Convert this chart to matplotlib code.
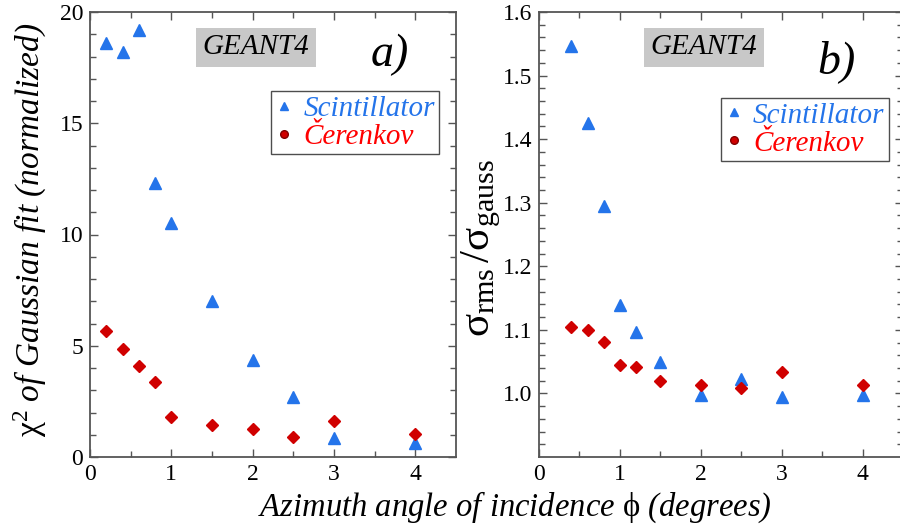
import numpy as np
import matplotlib.pyplot as plt
from matplotlib.lines import Line2D

plt.rcParams['font.family'] = 'serif'
plt.rcParams['font.serif'] = ['Liberation Serif', 'DejaVu Serif']
plt.rcParams['mathtext.fontset'] = 'custom'
plt.rcParams['mathtext.rm'] = 'Liberation Serif'
plt.rcParams['mathtext.it'] = 'Liberation Serif:italic'

# panel a) chi^2 of gaussian fit
x_scint_a = [0.2, 0.4, 0.6, 0.8, 1.0, 1.5, 2.0, 2.5, 3.0, 4.0]
chi2_scint = [18.6, 18.2, 19.2, 12.3, 10.5, 7.0, 4.35, 2.7, 0.85, 0.63]
x_cer_a = [0.2, 0.4, 0.6, 0.8, 1.0, 1.5, 2.0, 2.5, 3.0, 4.0]
chi2_cer = [5.66, 4.85, 4.09, 3.37, 1.8, 1.44, 1.26, 0.9, 1.6, 1.03]

# panel b) sigma_rms / sigma_gauss
x_scint_b = [0.4, 0.6, 0.8, 1.0, 1.2, 1.5, 2.0, 2.5, 3.0, 4.0]
ratio_scint = [1.547, 1.425, 1.295, 1.139, 1.097, 1.05, 0.998, 1.023, 0.995, 0.998]
x_cer_b = [0.4, 0.6, 0.8, 1.0, 1.2, 1.5, 2.0, 2.5, 3.0, 4.0]
ratio_cer = [1.105, 1.099, 1.081, 1.044, 1.041, 1.019, 1.013, 1.008, 1.033, 1.013]

blue = '#2474ea'
red = '#d00000'
spine_col = '#555555'

fig = plt.figure(figsize=(9, 5.27), dpi=100)
ax1 = fig.add_axes([90/900, 1-457/527, 366/900, 445/527])
ax2 = fig.add_axes([539/900, 1-457/527, 364/900, 445/527])

for ax in (ax1, ax2):
    ax.tick_params(which='both', direction='in', top=True, right=True,
                   color=spine_col, labelsize=17)
    ax.tick_params(axis='x', pad=5)
    ax.tick_params(axis='y', pad=5)
    ax.tick_params(which='major', length=6, width=1)
    ax.tick_params(which='minor', length=4, width=1)
    for s in ax.spines.values():
        s.set_color(spine_col)
        s.set_linewidth(1.3)
    ax.set_xlim(0, 4.5)
    ax.set_xticks([0, 1, 2, 3, 4])
    ax.set_xticks(np.arange(0.5, 4.5, 1.0), minor=True)

# left panel
ax1.plot(x_scint_a, chi2_scint, linestyle='none', marker='^', ms=8.5,
         color=blue, mec=blue)
ax1.plot(x_cer_a, chi2_cer, linestyle='none', marker='D', ms=6.5,
         color=red, mec=red)
ax1.set_ylim(0, 20)
ax1.set_yticks([0, 5, 10, 15, 20])
ax1.set_yticks(np.arange(0, 20, 1), minor=True)
ax1.set_ylabel(r'$\mathrm{\chi^2}$ of Gaussian fit (normalized)',
               fontsize=24, style='italic')
ax1.yaxis.set_label_coords(-0.112, 0.51)

# right panel
ax2.plot(x_scint_b, ratio_scint, linestyle='none', marker='^', ms=8.5,
         color=blue, mec=blue)
ax2.plot(x_cer_b, ratio_cer, linestyle='none', marker='D', ms=6.5,
         color=red, mec=red)
ax2.set_ylim(0.9, 1.6)
ax2.set_yticks([1.0, 1.1, 1.2, 1.3, 1.4, 1.5, 1.6])
ax2.set_yticklabels(['1.0', '1.1', '1.2', '1.3', '1.4', '1.5', '1.6'])
ax2.set_yticks(np.arange(0.92, 1.6, 0.02), minor=True)
ax2.set_ylabel(r'$\mathrm{\sigma_{rms}\,/\sigma_{gauss}}$', fontsize=31)
ax2.yaxis.set_label_coords(-0.1, 0.47)

# annotations
for ax, lab, pos in ((ax1, 'a)', (0.82, 0.903)), (ax2, 'b)', (0.816, 0.888))):
    ax.text(0.454, 0.921, 'GEANT4', transform=ax.transAxes, fontsize=21,
            style='italic', ha='center', va='center',
            bbox=dict(boxstyle='square,pad=0.22', fc='#c8c8c8', ec='none'))
    ax.text(pos[0], pos[1], lab, transform=ax.transAxes, fontsize=33,
            style='italic', ha='center', va='center')

handles = [Line2D([], [], linestyle='none', marker='^', ms=6, color=blue),
           Line2D([], [], linestyle='none', marker='o', ms=5.5, color=red, mec='#800000')]
for ax, loc in ((ax1, (0.495, 0.822)), (ax2, (0.50, 0.807))):
    leg = ax.legend(handles, ['Scintillator', 'Čerenkov'], loc='upper left',
                    bbox_to_anchor=loc, frameon=True, fancybox=False,
                    prop={'family': 'serif', 'size': 21, 'style': 'italic'},
                    handlelength=0.6, handletextpad=0.35, borderpad=0.15,
                    labelspacing=0.05, borderaxespad=0)
    leg.get_frame().set_edgecolor('#222222')
    leg.get_frame().set_linewidth(1.0)
    for t, c in zip(leg.get_texts(), [blue, '#ff0000']):
        t.set_color(c)

fig.text(515/900, 1-507/527,
         r'Azimuth angle of incidence $\mathrm{\phi}$ (degrees)',
         fontsize=23.5, style='italic', ha='center', va='center')

fig.savefig('out.png', dpi=100)
